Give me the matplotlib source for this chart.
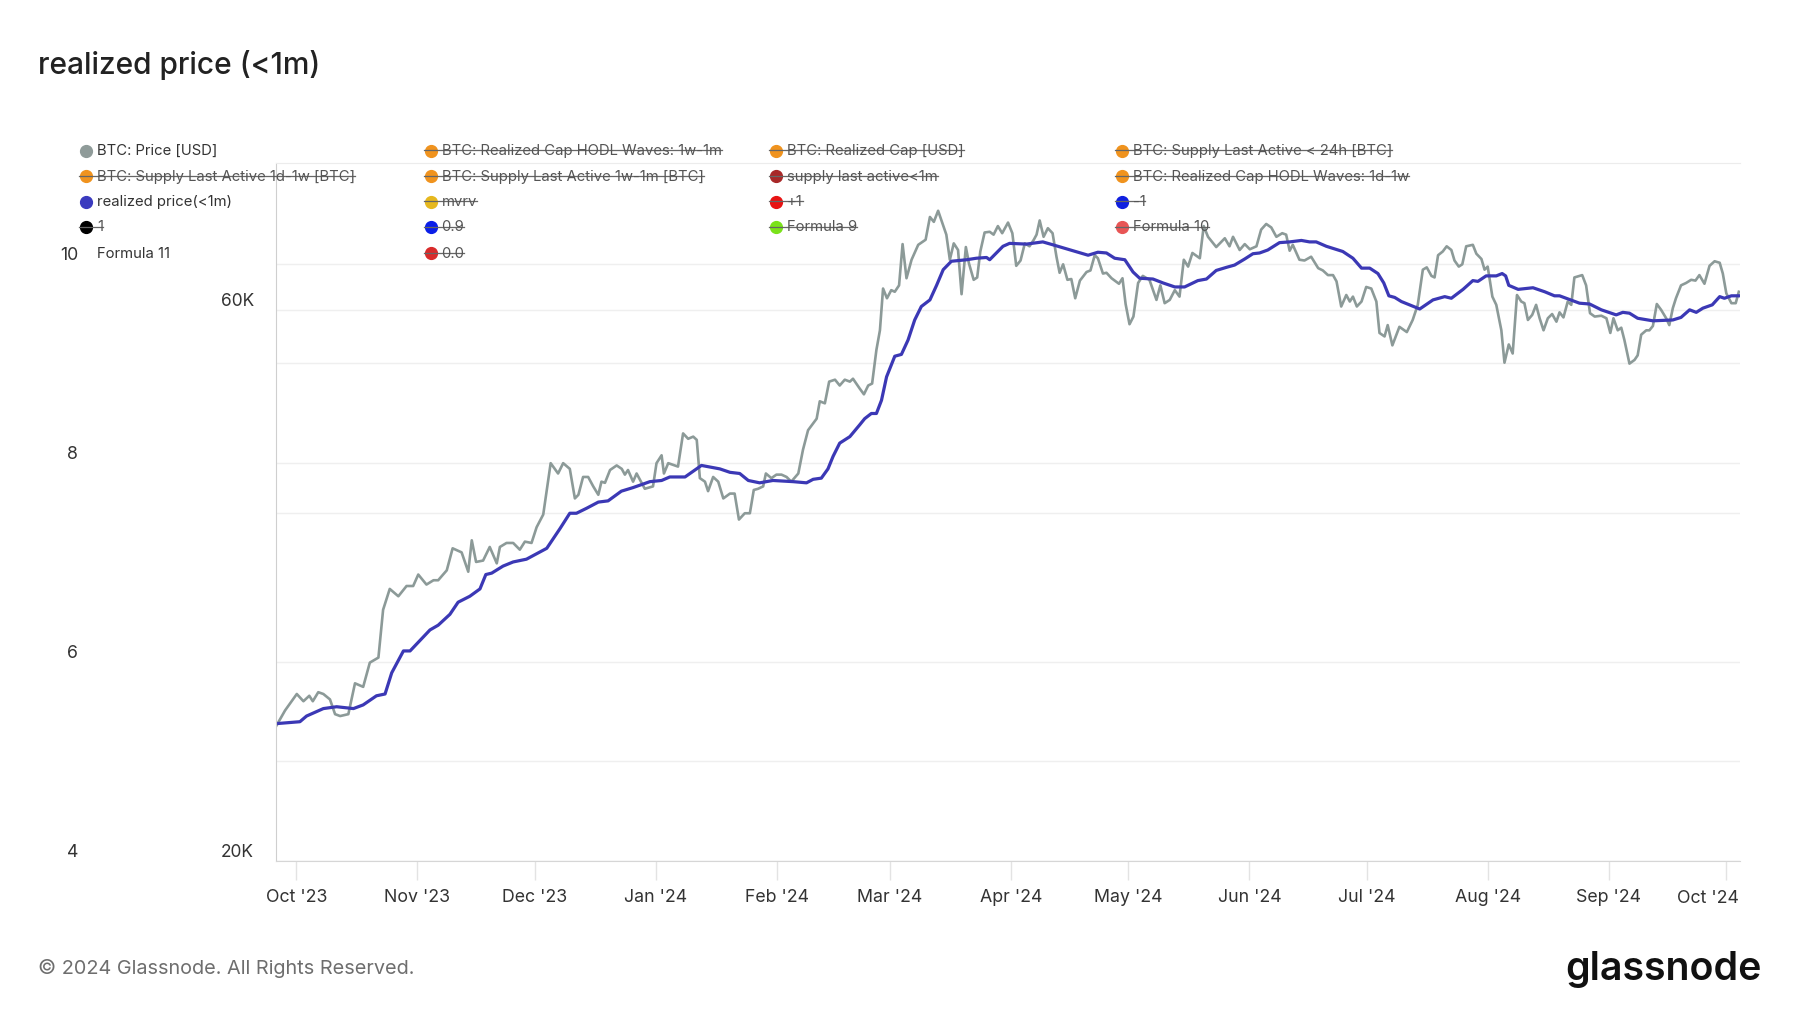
import numpy as np
import matplotlib
matplotlib.use('Agg')
import matplotlib.pyplot as plt
import matplotlib.dates as mdates
from matplotlib.lines import Line2D
from matplotlib.ticker import NullLocator

plt.rcParams['font.family'] = ['Inter', 'DejaVu Sans']

W, H = 1800, 1013

# days counted from 2023-10-01, values in thousands of USD
start = np.datetime64('2023-10-01')

price_days = [-5.1, -2.9, 0.1, 1.8, 3.3, 4.2, 5.6, 6.9, 8.6, 9.9,
              11.2, 13.3, 15.0, 17.1, 18.8, 21.0, 22.2, 23.9, 26.1, 28.2,
              29.9, 31.2, 33.3, 35.1, 36.3, 38.5, 40.0, 42.3, 44.0, 44.9,
              46.0, 47.8, 49.5, 51.3, 52.1, 53.8, 55.5, 57.2, 58.5, 60.2,
              61.5, 63.2, 65.1, 67.0, 68.3, 70.0, 71.3, 72.2, 73.4, 74.7,
              76.0, 77.3, 78.1, 79.0, 80.3, 82.0, 83.3, 84.1, 84.9, 86.2,
              87.1, 89.2, 91.3, 92.2, 93.5, 94.1, 95.2, 97.7, 99.0, 100.3,
              101.6, 102.5, 103.3, 104.6, 105.4, 106.7, 108.0, 109.3, 111.0, 112.2,
              113.3, 114.8, 116.1, 117.1, 118.2, 119.5, 120.2, 121.6, 122.9, 124.2,
              125.5, 126.7, 128.5, 129.7, 131.0, 133.2, 134.0, 135.3, 136.4, 137.9,
              139.1, 140.4, 141.7, 142.5, 144.2, 145.3, 146.4, 147.4, 148.5, 149.4,
              150.2, 151.2, 152.3, 153.2, 154.3, 155.2, 156.2, 157.5, 159.2, 161.1,
              162.2, 163.2, 164.3, 166.4, 167.3, 168.3, 169.4, 170.3, 171.4, 172.2,
              173.4, 174.3, 175.1, 176.2, 177.5, 178.5, 179.6, 180.7, 182.2, 183.3,
              184.3, 185.4, 186.5, 187.7, 188.8, 189.5, 190.3, 191.3, 192.4, 193.6,
              194.6, 195.4, 196.3, 197.4, 198.4, 199.4, 200.6, 202.3, 203.3, 204.4,
              205.2, 206.5, 207.4, 208.7, 210.6, 211.5, 212.3, 213.3, 214.3, 215.5,
              216.7, 218.4, 220.2, 221.2, 222.3, 223.6, 224.9, 226.1, 227.2, 228.3,
              229.4, 231.3, 232.3, 233.4, 235.5, 237.7, 238.9, 239.8, 241.5, 242.8,
              244.1, 245.8, 247.0, 248.3, 249.6, 250.9, 252.4, 253.4, 254.3, 255.1,
              256.8, 258.1, 259.8, 261.6, 262.8, 264.1, 265.4, 266.3, 267.5, 268.8,
              269.7, 270.5, 271.5, 272.7, 273.9, 275.2, 276.5, 277.3, 278.6, 279.4,
              280.6, 282.4, 284.3, 285.8, 287.1, 288.4, 289.4, 290.6, 291.4, 292.3,
              293.5, 294.5, 295.7, 296.5, 297.6, 298.5, 299.5, 301.2, 302.1, 303.4,
              304.2, 305.0, 306.2, 307.2, 308.5, 309.3, 310.4, 311.4, 312.5, 313.6,
              314.4, 315.3, 316.4, 317.4, 318.3, 319.3, 320.4, 321.5, 322.6, 323.4,
              324.4, 325.5, 326.4, 327.2, 329.2, 330.2, 331.2, 332.4, 334.1, 335.4,
              336.4, 337.2, 338.3, 339.2, 340.0, 341.3, 342.6, 343.4, 344.3, 345.6,
              346.4, 347.3, 348.3, 349.4, 350.7, 351.5, 352.4, 353.2, 354.5, 355.8,
              357.1, 358.2, 359.2, 360.5, 361.8, 363.1, 364.4, 365.2, 366.1, 367.4,
              368.5, 369.3]
price_k = [26.2, 27.0, 27.9, 27.5, 27.8, 27.5, 28.0, 27.9, 27.6, 26.8,
           26.7, 26.8, 28.5, 28.3, 29.7, 30.0, 33.0, 34.4, 33.9, 34.6,
           34.6, 35.4, 34.7, 35.0, 35.0, 35.7, 37.3, 37.0, 35.6, 37.9,
           36.3, 36.4, 37.4, 36.2, 37.4, 37.7, 37.7, 37.2, 37.8, 37.7,
           38.9, 39.9, 44.2, 43.3, 44.2, 43.7, 41.2, 41.5, 43.0, 43.0,
           42.2, 41.5, 42.6, 42.5, 43.6, 44.0, 43.7, 43.2, 43.6, 42.6,
           43.3, 42.0, 42.2, 44.2, 44.9, 43.3, 44.2, 43.9, 46.9, 46.4,
           46.6, 46.3, 42.9, 42.6, 41.8, 43.0, 42.6, 41.2, 41.6, 41.6,
           39.5, 40.0, 40.0, 41.9, 42.0, 42.2, 43.3, 42.9, 43.2, 43.2,
           43.0, 42.6, 43.3, 45.4, 47.2, 48.3, 50.0, 49.8, 52.0, 52.2,
           51.6, 52.2, 52.0, 52.3, 51.3, 50.7, 51.6, 51.8, 55.4, 57.6,
           62.6, 61.4, 62.4, 62.2, 63.0, 68.4, 63.9, 66.3, 68.3, 69.0,
           72.2, 71.5, 73.1, 69.7, 66.3, 68.5, 67.6, 61.9, 68.0, 65.8,
           63.7, 64.0, 67.4, 70.0, 70.1, 69.7, 70.9, 69.9, 71.4, 69.9,
           65.5, 66.2, 68.5, 68.1, 69.0, 69.7, 71.7, 69.4, 70.6, 69.9,
           66.7, 64.6, 65.7, 63.7, 63.8, 61.4, 63.6, 64.7, 64.9, 66.9,
           66.5, 64.5, 64.6, 63.9, 63.2, 63.9, 60.7, 58.3, 59.2, 63.3,
           64.2, 63.7, 61.2, 63.0, 60.8, 61.2, 62.4, 61.6, 66.3, 65.4,
           67.2, 66.5, 70.9, 69.4, 68.0, 69.2, 68.1, 69.4, 67.6, 68.4,
           67.7, 68.1, 70.4, 71.2, 70.7, 69.4, 69.9, 69.7, 67.5, 68.3,
           66.3, 66.2, 66.7, 65.2, 64.9, 64.3, 64.3, 63.5, 60.4, 61.8,
           61.0, 61.6, 60.4, 61.0, 62.8, 62.6, 61.0, 57.3, 56.9, 58.2,
           55.9, 58.0, 57.4, 58.8, 60.6, 65.0, 65.3, 64.2, 64.0, 66.9,
           67.4, 68.1, 67.6, 66.2, 65.4, 65.7, 68.1, 68.3, 67.1, 66.4,
           65.0, 65.4, 61.6, 60.6, 57.6, 54.0, 56.0, 55.0, 61.8, 61.0,
           60.8, 58.8, 59.4, 60.6, 59.0, 57.6, 59.0, 59.5, 58.6, 59.7,
           59.1, 61.0, 60.6, 64.0, 64.3, 63.0, 59.6, 59.2, 59.3, 59.0,
           57.3, 59.0, 57.6, 57.9, 56.5, 53.9, 54.3, 54.8, 57.1, 57.6,
           57.6, 58.1, 60.7, 60.0, 59.0, 58.2, 60.2, 61.4, 63.0, 63.3,
           63.7, 63.6, 64.3, 63.2, 65.5, 66.1, 65.9, 64.5, 62.0, 60.8,
           60.8, 62.2]

realized_days = [-5.1, 0.9, 2.6, 6.9, 10.3, 14.6, 17.1, 20.5, 22.7, 24.4,
                 27.4, 29.1, 34.2, 36.3, 39.3, 41.4, 44.4, 47.0, 48.5, 50.0,
                 52.9, 55.5, 58.9, 64.1, 67.5, 70.0, 71.7, 74.3, 77.3, 79.8,
                 83.2, 86.2, 90.5, 93.5, 95.6, 99.5, 101.2, 103.7, 108.4, 111.0,
                 113.5, 115.7, 118.6, 122.0, 127.2, 130.6, 132.3, 134.4, 136.1, 137.4,
                 139.1, 141.7, 144.2, 145.5, 147.2, 148.5, 149.8, 151.1, 153.2, 154.9,
                 156.6, 158.3, 160.0, 162.2, 163.9, 165.6, 167.7, 171.6, 174.1, 176.7,
                 177.5, 179.2, 180.9, 182.6, 186.9, 191.1, 193.7, 198.8, 202.7, 205.2,
                 207.4, 209.5, 212.1, 214.2, 215.9, 219.3, 221.9, 224.9, 227.4, 230.8,
                 233.0, 235.5, 238.1, 240.2, 242.8, 244.9, 246.6, 248.7, 251.7, 254.3,
                 257.3, 259.4, 261.1, 263.7, 266.7, 267.9, 270.5, 272.7, 274.8, 276.9,
                 278.4, 279.7, 281.2, 282.9, 285.0, 287.6, 291.0, 294.0, 295.7, 298.7,
                 301.2, 302.5, 304.6, 307.2, 308.7, 309.6, 310.4, 312.8, 316.6, 319.6,
                 322.1, 323.4, 328.5, 331.1, 334.1, 337.9, 339.6, 341.3, 343.4, 347.3,
                 352.4, 354.5, 356.7, 358.4, 360.1, 362.5, 364.4, 365.6, 367.4, 369.3]
realized_k = [26.3, 26.4, 26.7, 27.1, 27.2, 27.1, 27.3, 27.8, 27.9, 29.1,
              30.4, 30.4, 31.7, 32.0, 32.7, 33.5, 33.9, 34.4, 35.4, 35.5,
              36.0, 36.3, 36.5, 37.3, 38.8, 40.0, 40.0, 40.4, 40.9, 41.0,
              41.8, 42.1, 42.6, 42.7, 43.0, 43.0, 43.4, 44.0, 43.7, 43.4,
              43.3, 42.7, 42.5, 42.7, 42.6, 42.5, 42.8, 42.9, 43.7, 44.8,
              46.0, 46.6, 47.7, 48.3, 48.8, 48.8, 50.1, 52.5, 54.7, 54.9,
              56.5, 58.8, 60.4, 61.2, 63.0, 65.0, 66.1, 66.3, 66.5, 66.6,
              66.3, 67.2, 68.1, 68.5, 68.4, 68.7, 68.3, 67.5, 66.9, 67.3,
              67.2, 66.5, 66.3, 64.7, 63.9, 63.8, 63.3, 62.8, 62.8, 63.6,
              63.8, 64.9, 65.3, 65.6, 66.4, 67.1, 67.2, 67.6, 68.6, 68.7,
              68.9, 68.7, 68.7, 68.1, 67.6, 67.4, 66.5, 65.2, 65.2, 64.5,
              63.3, 61.7, 61.5, 61.0, 60.6, 60.1, 61.2, 61.6, 61.4, 62.5,
              63.6, 63.5, 64.2, 64.2, 64.5, 64.2, 63.0, 62.5, 62.7, 62.2,
              61.7, 61.7, 60.8, 60.7, 60.0, 59.4, 59.7, 59.6, 59.0, 58.7,
              58.8, 59.1, 60.0, 59.7, 60.2, 60.6, 61.6, 61.4, 61.7, 61.7]

month_ticks = ['2023-10-01', '2023-11-01', '2023-12-01', '2024-01-01', '2024-02-01',
               '2024-03-01', '2024-04-01', '2024-05-01', '2024-06-01', '2024-07-01',
               '2024-08-01', '2024-09-01', '2024-10-01']
month_labels = ["Oct '23", "Nov '23", "Dec '23", "Jan '24", "Feb '24", "Mar '24",
                "Apr '24", "May '24", "Jun '24", "Jul '24", "Aug '24", "Sep '24", "Oct '24"]

price_ticks = [20000, 60000]
price_tick_labels = ['20K', '60K']
left_ticks = [4, 6, 8, 10]

orange = '#f0931e'
legend_cols = [
    [("BTC: Price [USD]", '#8f9b99', False),
     ("BTC: Supply Last Active 1d-1w [BTC]", orange, True),
     ("realized price(<1m)", '#3b3bbf', False),
     ("1", '#000000', True),
     ("Formula 11", None, False)],
    [("BTC: Realized Cap HODL Waves: 1w-1m", orange, True),
     ("BTC: Supply Last Active 1w-1m [BTC]", orange, True),
     ("mvrv", '#e6b81e', True),
     ("0.9", '#0a1ee8', True),
     ("0.0", '#d92b2b', True)],
    [("BTC: Realized Cap [USD]", orange, True),
     ("supply last active<1m", '#a82828', True),
     ("+1", '#e81313', True),
     ("Formula 9", '#7ae21a', True)],
    [("BTC: Supply Last Active < 24h [BTC]", orange, True),
     ("BTC: Realized Cap HODL Waves: 1d-1w", orange, True),
     ("-1", '#1020e0', True),
     ("Formula 10", '#e85555', True)],
]
col_x = [86, 430.5, 776, 1121.6]
row_y = [151, 176.5, 202, 227, 253.5]

fig = plt.figure(figsize=(18, 10.13), dpi=100)
ax = fig.add_axes([275.5 / W, 1 - 861 / H, (1740 - 275.5) / W, (861 - 163) / H])
ax2 = ax.twinx()
ax.set_zorder(ax2.get_zorder() + 1)
ax.patch.set_visible(False)

base = mdates.date2num(start)
px = base + np.array(price_days)
rx = base + np.array(realized_days)

ax.plot(px, np.array(price_k) * 1000, color='#8c9a98', lw=1.9, solid_joinstyle='round')
ax.plot(rx, np.array(realized_k) * 1000, color='#3b38b5', lw=2.3, solid_joinstyle='round')

ax.set_yscale('log')
ax.set_ylim(20000, 80400)
ax.set_xlim(base - 5.35, base + 369.6)
ax.yaxis.set_minor_locator(NullLocator())
ax.set_yticks(price_ticks, labels=price_tick_labels)
ax.yaxis.grid(True, color='#efefef', lw=1)
ax.tick_params(axis='y', length=0, pad=15.5, labelsize=12.5, labelcolor='#333333')
for lbl in ax.get_yticklabels():
    lbl.set_verticalalignment('bottom')

tick_pos = mdates.date2num(np.array(month_ticks, dtype='datetime64[D]'))
ax.set_xticks(tick_pos, labels=month_labels[:-1] + [''])
ax.tick_params(axis='x', length=14, width=1, color='#e3e3e3', pad=6.5,
               labelsize=12.8, labelcolor='#333333')
ax.text(0.9995, -0.0535, month_labels[-1], transform=ax.transAxes, ha='right', va='center',
        fontsize=12.8, color='#333333')

ax.spines['right'].set_visible(False)
ax.spines['left'].set_color('#cfcfcf')
ax.spines['bottom'].set_color('#d6d6d6')
ax.spines['top'].set_color('#ececec')

# left hidden axis with 4..10 scale
ax2.yaxis.tick_left()
ax2.set_ylim(4, 11.015)
ax2.set_yticks(left_ticks, labels=[str(v) for v in left_ticks])
ax2.set_yticks([5, 7.5, 9], minor=True)
ax2.yaxis.grid(True, which='both', color='#efefef', lw=1)
ax2.tick_params(axis='y', which='both', length=0, pad=142, labelsize=12.8, labelcolor='#333333')
for lbl in ax2.get_yticklabels():
    lbl.set_verticalalignment('bottom')
for s in ax2.spines.values():
    s.set_visible(False)

# title and footer
fig.text(38 / W, 1 - 65 / H, 'realized price (<1m)', fontsize=21.5, fontweight='medium',
         color='#222222', va='center')
fig.text(38 / W, 1 - 968 / H, '\u00a9 2024 Glassnode. All Rights Reserved.', fontsize=14.3,
         color='#6e6e6e', va='center')
fig.text(1762 / W, 1 - 969 / H, 'glassnode', fontsize=28.3, fontweight='semibold',
         color='#111111', ha='right', va='center')

# legend
struck = []
for cx, entries in zip(col_x, legend_cols):
    for ry, (label, color, strike) in zip(row_y, entries):
        if color is not None:
            fig.add_artist(Line2D([cx / W], [1 - ry / H], marker='o', ms=8.5, color=color,
                                  mec=color, transform=fig.transFigure))
        t = fig.text((cx + 11) / W, 1 - ry / H, label, fontsize=10.7,
                     color='#555555' if strike else '#333333', va='center')
        if strike:
            struck.append((cx, ry, t))

renderer = fig.canvas.get_renderer()
for cx, ry, t in struck:
    bb = t.get_window_extent(renderer)
    fig.add_artist(Line2D([(cx - 7) / W, bb.x1 / W], [1 - (ry - 0.5) / H] * 2,
                          color='#666666', lw=0.9, transform=fig.transFigure))

fig.savefig('out.png', dpi=100)
